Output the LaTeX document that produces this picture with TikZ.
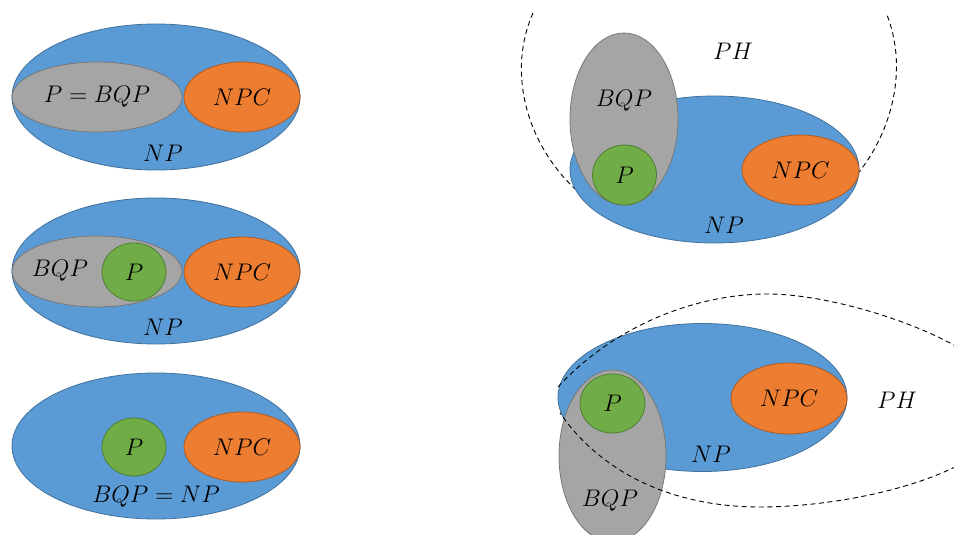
\documentclass[tikz,border=0pt]{standalone}
\usepackage{amsfonts}
\usepackage{tikz}

\definecolor{npblue}{HTML}{5B9BD5}
\definecolor{npedge}{HTML}{41719C}
\definecolor{npcorange}{HTML}{ED7D31}
\definecolor{npcedge}{HTML}{AE5A21}
\definecolor{bqpgray}{HTML}{A5A5A5}
\definecolor{bqpedge}{HTML}{787878}
\definecolor{pgreen}{HTML}{70AD47}
\definecolor{pedge}{HTML}{507E32}

\tikzset{
  setNP/.style={fill=npblue,draw=npedge,line width=0.4pt},
  setNPC/.style={fill=npcorange,draw=npcedge,line width=0.4pt},
  setBQP/.style={fill=bqpgray,draw=bqpedge,line width=0.4pt},
  setP/.style={fill=pgreen,draw=pedge,line width=0.4pt},
  phline/.style={dash pattern=on 2.5pt off 1.8pt,line width=0.45pt},
  lbl/.style={inner sep=0pt,font=\fontsize{12.2}{14}\selectfont}
}

\begin{document}
\begin{tikzpicture}[x=0.5pt,y=-0.5pt]
	\useasboundingbox (0,0) rectangle (954,535);
	\clip (0,0) rectangle (954,535);

	% P = BQP
	\draw[setNP] (156,97) ellipse [x radius=144, y radius=73];
	\draw[setBQP] (97,97) ellipse [x radius=85, y radius=35];
	\draw[setNPC] (242,97) ellipse [x radius=58, y radius=35];
	\node[lbl] (pbqp1) at (97,97) {$P=BQP$};
	\node[lbl] (npc1) at (242,97) {$NPC$};
	\node[lbl] (np1) at (163,153) {$NP$};

	% P inside BQP
	\draw[setNP] (156,271) ellipse [x radius=144, y radius=73];
	\draw[setBQP] (97,271.5) ellipse [x radius=85, y radius=35.5];
	\draw[setP] (134,272) ellipse [x radius=32, y radius=29];
	\draw[setNPC] (242,272) ellipse [x radius=58, y radius=35];
	\node[lbl] (bqp2) at (60,271) {$BQP$};
	\node[lbl] (p2) at (134,272) {$P$};
	\node[lbl] (npc2) at (242,272) {$NPC$};
	\node[lbl] (np2) at (163,327) {$NP$};

	% BQP = NP
	\draw[setNP] (156,446) ellipse [x radius=144, y radius=73];
	\draw[setP] (134,447) ellipse [x radius=32, y radius=29];
	\draw[setNPC] (242,447) ellipse [x radius=58, y radius=35];
	\node[lbl] (p3) at (134,447) {$P$};
	\node[lbl] (npc3) at (242,447) {$NPC$};
	\node[lbl] (bqpnp3) at (156,497) {$BQP=NP$};

	% PH round NP and BQP
	\draw[phline] (533,13) .. controls (490,110) and (570,245) .. (715,238)
	  .. controls (845,245) and (925,112) .. (887,15);
	\draw[setNP] (714.5,169.5) ellipse [x radius=144.5, y radius=73.5];
	\draw[setBQP] (624,119) ellipse [x radius=54, y radius=86];
	\draw[setP] (624.5,175) ellipse [x radius=32, y radius=30];
	\draw[setNPC] (800.5,170) ellipse [x radius=58.5, y radius=35];
	\node[lbl] (ph4) at (733,51) {$PH$};
	\node[lbl] (bqp4) at (624,101) {$BQP$};
	\node[lbl] (p4) at (624.5,175) {$P$};
	\node[lbl] (npc4) at (800.5,170) {$NPC$};
	\node[lbl] (np4) at (724,225) {$NP$};

	% PH round NP only
	\draw[setNP] (702.5,397.5) ellipse [x radius=144.5, y radius=74];
	\draw[setBQP] (612.5,456) ellipse [x radius=53.5, y radius=86];
	\draw[setP] (612.5,403.5) ellipse [x radius=32.5, y radius=29.5];
	\draw[setNPC] (789,398.5) ellipse [x radius=58, y radius=35.5];
	\draw[phline] (558,387) .. controls (610,330) and (690,294) .. (768,294)
	  .. controls (850,294) and (1010,350) .. (1010,405)
	  .. controls (1010,470) and (860,507) .. (760,507)
	  .. controls (680,507) and (605,478) .. (560,413);
	\node[lbl] (p5) at (612.5,403.5) {$P$};
	\node[lbl] (npc5) at (789,398.5) {$NPC$};
	\node[lbl] (np5) at (711,454) {$NP$};
	\node[lbl] (bqp5) at (610,501) {$BQP$};
	\node[lbl] (ph5) at (897,400) {$PH$};

\end{tikzpicture}
\end{document}
